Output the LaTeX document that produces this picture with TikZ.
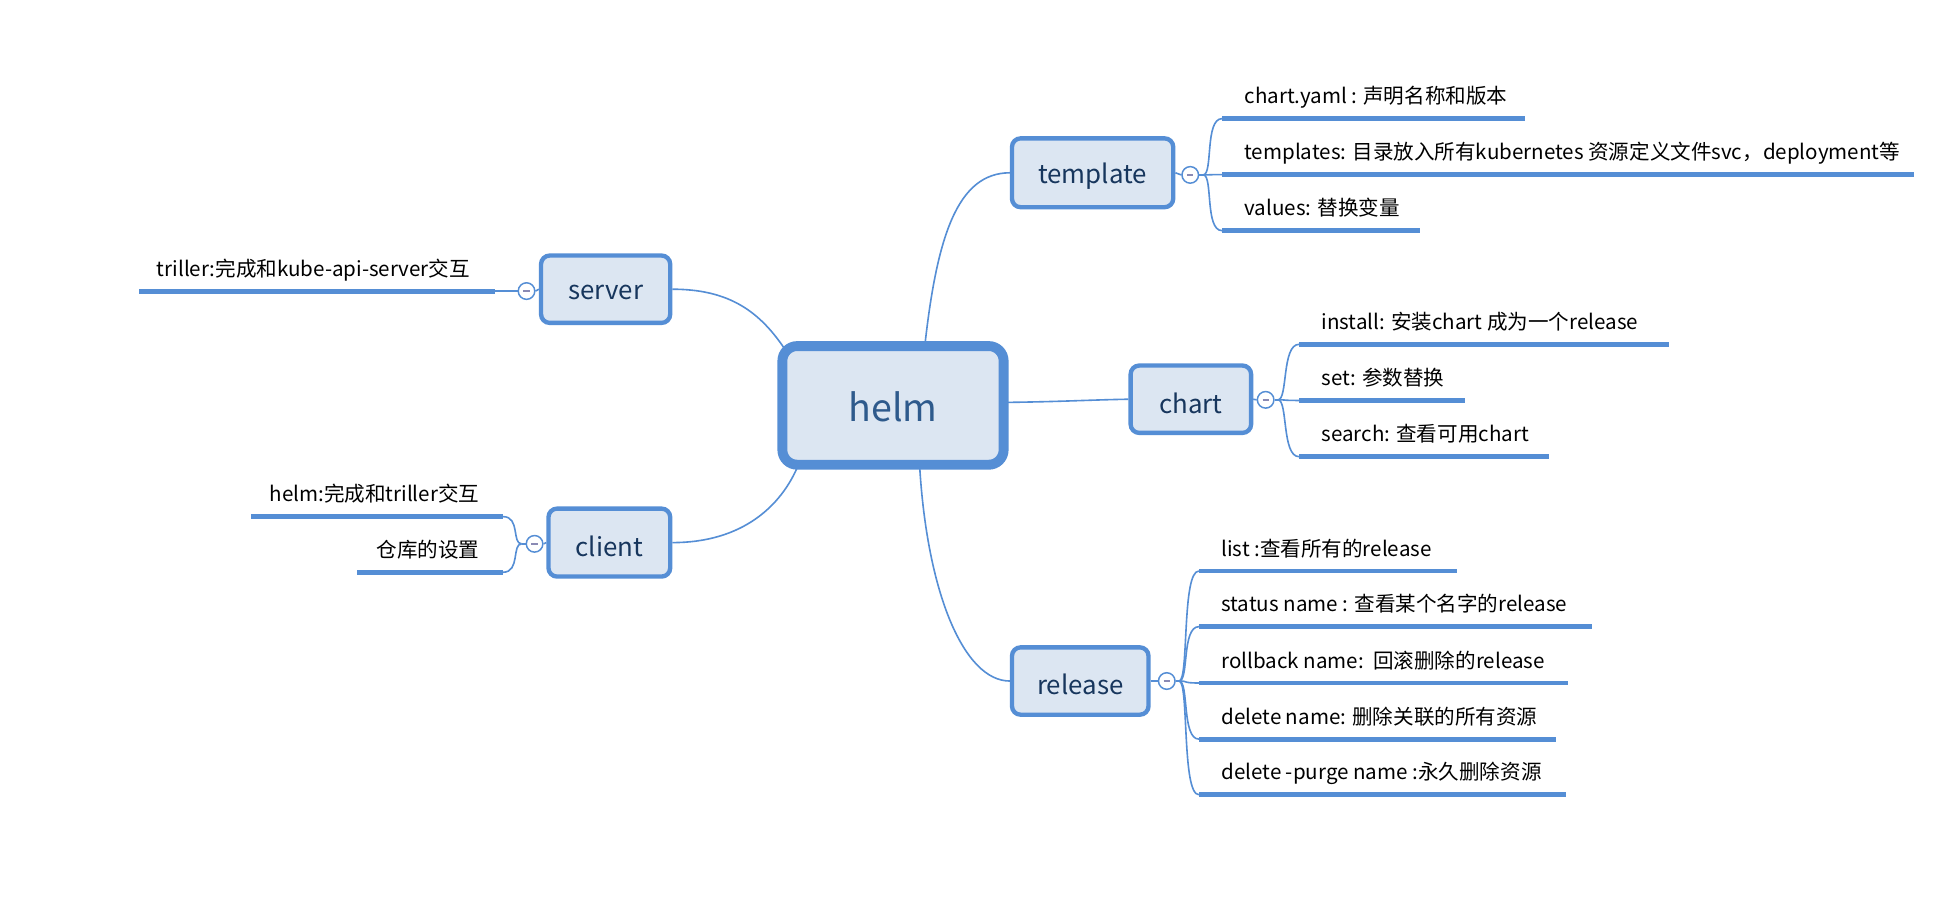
\documentclass[tikz,border=0pt]{standalone}
\usepackage{fontspec}
\setmainfont{Noto Sans CJK SC}
\usetikzlibrary{backgrounds,calc}
\definecolor{bord}{HTML}{558ED5}
\definecolor{fillc}{HTML}{DCE6F2}
\definecolor{navy}{HTML}{17365D}
\definecolor{helmtxt}{HTML}{2E5A8C}
\definecolor{minusc}{HTML}{8A8AB4}
\newcommand{\lowr}[1]{\raisebox{-3bp}[\height][\depth]{#1}}
\begin{document}
\begin{tikzpicture}[x=1bp,y=-1bp,
  box/.style={draw=bord, fill=fillc, line width=3.5bp, rounded corners=7bp, text=navy, font=\fontsize{21}{25}\selectfont, inner sep=0pt},
  hub/.style={box, line width=8bp, rounded corners=12bp, text=helmtxt, font=\fontsize{30.5}{36}\selectfont},
  conn/.style={draw=bord, line width=1.3bp},
  uline/.style={draw=bord, line width=4bp},
  lbl/.style={font=\fontsize{16.7}{20}\selectfont, text=black, inner sep=0pt},
  tog/.style={circle, draw=bord, fill=white, line width=1.2bp, minimum size=13.4bp, inner sep=0pt,
    path picture={\draw[minusc, line width=1.2bp] ([xshift=-2.5bp]path picture bounding box.center) -- ([xshift=2.5bp]path picture bounding box.center);}}
]
\useasboundingbox (0,0) rectangle (1568,738);

% main nodes
\node[hub, minimum width=179bp, minimum height=96bp] (helm) at (722.5,328) {\raisebox{-1bp}[\height][\depth]{helm}};
\node[box, minimum width=130.5bp, minimum height=55.7bp] (template) at (884,139.8) {\lowr{template}};
\node[box, minimum width=104.5bp, minimum height=54.5bp] (server) at (490,234) {\lowr{server}};
\node[box, minimum width=97.5bp, minimum height=54.5bp] (chart) at (963.5,323) {\lowr{chart}};
\node[box, minimum width=98.5bp, minimum height=55bp] (client) at (493,439) {\lowr{client}};
\node[box, minimum width=110.5bp, minimum height=54.5bp] (release) at (874,551) {\lowr{release}};

% toggles
\node[tog] (tT) at (963,141.5) {};
\node[tog] (tS) at (426,235.5) {};
\node[tog] (tC) at (1024,323.5) {};
\node[tog] (tL) at (432.5,440) {};
\node[tog] (tR) at (944,551) {};

% junctions
\coordinate (jT) at (973.5,141.5);
\coordinate (jC) at (1034,323.5);
\coordinate (jR) at (954,551);
\coordinate (jL) at (422,440);

% helm attachment points
\coordinate (hT) at (748,282);
\coordinate (hS) at (636,284);
\coordinate (hC) at (812,325.6);
\coordinate (hL) at (646,376);
\coordinate (hR) at (744,376);

% template children
\foreach \i/\y/\e/\txt in {1/96/1234/{chart.yaml : 声明名称和版本},
  2/141.3/1548.6/{templates: 目录放入所有kubernetes 资源定义文件svc，deployment等},
  3/186.6/1149/{values: 替换变量}} {
  \coordinate (T\i s) at (988.7,\y);
  \coordinate (T\i e) at (\e,\y);
  \node[lbl, anchor=base west] (T\i) at (1006.7,\y-12) {\txt};
  \draw[uline] (T\i s) -- (T\i e);
}

% chart children
\foreach \i/\y/\e/\txt in {1/278.6/1350/{install: 安装chart 成为一个release},
  2/324/1185/{set: 参数替换},
  3/369.5/1253/{search: 查看可用chart}} {
  \coordinate (C\i s) at (1051,\y);
  \coordinate (C\i e) at (\e,\y);
  \node[lbl, anchor=base west] (C\i) at (1069,\y-12) {\txt};
  \draw[uline] (C\i s) -- (C\i e);
}

% release children
\foreach \i/\y/\e/\txt in {1/462/1179/{list :查看所有的release},
  2/507/1288/{status name : 查看某个名字的release},
  3/552.6/1269/{rollback name:\ \ 回滚删除的release},
  4/598/1259/{delete name: 删除关联的所有资源},
  5/643/1267/{delete -purge name :永久删除资源}} {
  \coordinate (R\i s) at (970,\y);
  \coordinate (R\i e) at (\e,\y);
  \node[lbl, anchor=base west] (R\i) at (988,\y-12) {\txt};
  \draw[uline] (R\i s) -- (R\i e);
}

% server child
\coordinate (S1s) at (112.6,235.5);
\coordinate (S1e) at (400.5,235.5);
\node[lbl, anchor=base east] (S1) at (380.5,223.5) {triller:完成和kube-api-server交互};
\draw[uline] (S1s) -- (S1e);

% client children
\foreach \i/\y/\s/\txt in {1/418/203/{helm:完成和triller交互},
  2/463/289/{仓库的设置}} {
  \coordinate (L\i s) at (\s,\y);
  \coordinate (L\i e) at (407,\y);
  \node[lbl, anchor=base east] (L\i) at (388,\y-12) {\txt};
  \draw[uline] (L\i s) -- (L\i e);
}

\begin{pgfonlayer}{background}
  \fill[white] (0,0) rectangle (1568,738);
  % hub connectors
  \draw[conn] (hT) .. controls (758,190) and (775,140) .. (template.west);
  \draw[conn] (server.east) .. controls (590,234) and (615,252) .. (hS);
  \draw[conn] (hC) .. controls (860,325) and (880,323.6) .. (chart.west);
  \draw[conn] (client.east) .. controls (600,439) and (632,410) .. (hL);
  \draw[conn] (hR) .. controls (750,480) and (780,551) .. (release.west);
  % box to toggle
  \draw[conn] (template.east) -- (tT.west);
  \draw[conn] (tT.east) -- (jT);
  \draw[conn] (chart.east) -- (tC.west);
  \draw[conn] (tC.east) -- (jC);
  \draw[conn] (release.east) -- (tR.west);
  \draw[conn] (tR.east) -- (jR);
  \draw[conn] (server.west) -- (tS.east);
  \draw[conn] (tS.west) -- (S1e);
  \draw[conn] (client.west) -- (tL.east);
  \draw[conn] (tL.west) -- (jL);
  % branches
  \foreach \i in {1,2,3} {
    \draw[conn] (jT) .. controls +(8,0) and +(-14,0) .. (T\i s);
    \draw[conn] (jC) .. controls +(8,0) and +(-14,0) .. (C\i s);
  }
  \foreach \i in {1,...,5} {
    \draw[conn] (jR) .. controls +(8,0) and +(-14,0) .. (R\i s);
  }
  \foreach \i in {1,2} {
    \draw[conn] (jL) .. controls +(-8,0) and +(14,0) .. (L\i e);
  }
\end{pgfonlayer}
\end{tikzpicture}
\end{document}
